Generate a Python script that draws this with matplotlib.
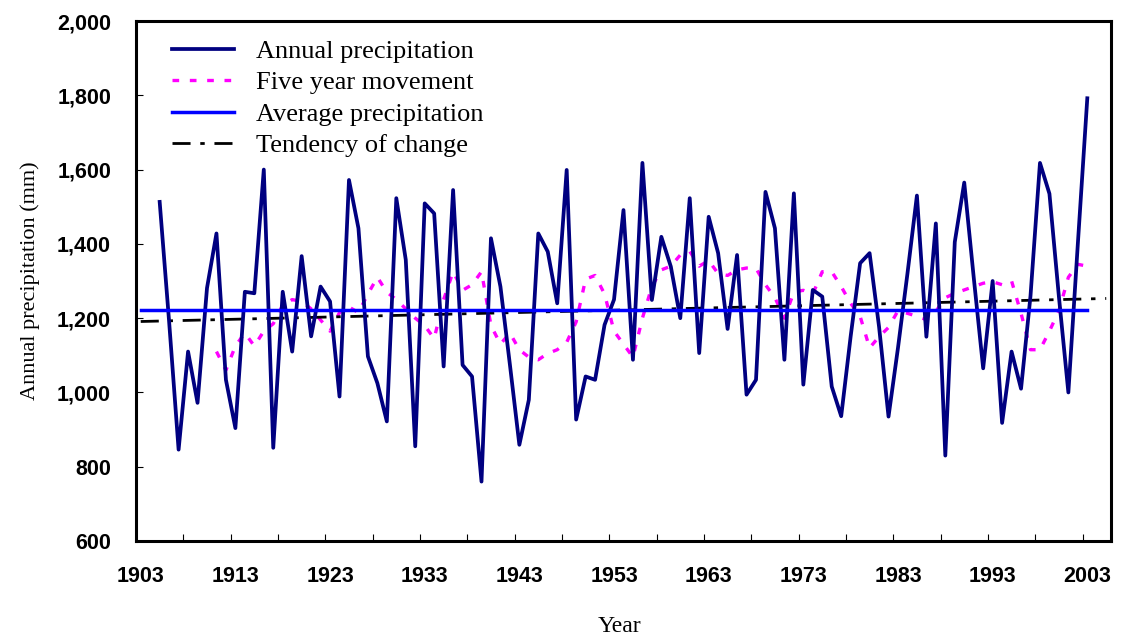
import numpy as np
import matplotlib
matplotlib.use('Agg')
import matplotlib.pyplot as plt
from matplotlib.ticker import FixedLocator, FuncFormatter

# Annual precipitation, 1905-2003 (mm)
years = np.arange(1905, 2004)
annual = [
    1513, 1190, 846, 1110, 972, 1281, 1428, 1034, 904, 1271,   # 1905-1914
    1267, 1600, 851, 1271, 1110, 1367, 1151, 1285, 1245, 989,   # 1915-1924
    1572, 1442, 1097, 1025, 922, 1523, 1357, 855, 1509, 1482,   # 1925-1934
    1070, 1545, 1074, 1043, 760, 1415, 1285, 1075, 859, 980,    # 1935-1944
    1428, 1379, 1240, 1599, 927, 1043, 1034, 1182, 1250, 1491,  # 1945-1954
    1088, 1618, 1249, 1419, 1339, 1200, 1523, 1106, 1473, 1375, # 1955-1964
    1171, 1370, 994, 1034, 1540, 1442, 1088, 1536, 1021, 1276,  # 1965-1974
    1258, 1016, 936, 1151, 1348, 1375, 1177, 935, 1120, 1320,   # 1975-1984
    1530, 1150, 1455, 830, 1405, 1565, 1310, 1065, 1300, 918,   # 1985-1994
    1110, 1010, 1260, 1618, 1535, 1258, 1000, 1400, 1792,       # 1995-2003
]

# Five year movement, 1911-2003
ma_years = np.arange(1911, 2004)
five_year = [
    1110, 1060, 1125, 1160, 1125, 1165, 1185, 1235, 1250, 1245,  # 1911-1920
    1225, 1195, 1165, 1215, 1230, 1215, 1265, 1310, 1270, 1250,  # 1921-1930
    1225, 1200, 1180, 1145, 1250, 1325, 1275, 1290, 1325, 1180,  # 1931-1940
    1130, 1160, 1115, 1095, 1088, 1105, 1115, 1135, 1190, 1305,  # 1941-1950
    1315, 1265, 1165, 1130, 1095, 1200, 1285, 1330, 1340, 1370,  # 1951-1960
    1380, 1340, 1355, 1320, 1315, 1330, 1335, 1334, 1290, 1255,  # 1961-1970
    1200, 1270, 1275, 1265, 1325, 1325, 1285, 1240, 1205, 1120,  # 1971-1980
    1150, 1175, 1220, 1213, 1205, 1196, 1218, 1255, 1267, 1276,  # 1981-1990
    1285, 1294, 1298, 1290, 1300, 1213, 1115, 1115, 1165, 1220,  # 1991-2000
    1310, 1345, 1340,                                            # 2001-2003
]

# Average precipitation line (1903-2003) and linear tendency (1903-2005)
avg_years = [1903, 2003]
avg_value = 1222
trend_years = [1903, 2005]
trend_values = [1191, 1253]

label_years = list(range(1903, 2004, 10))

fig = plt.figure(figsize=(11.24, 6.37), dpi=100)
ax = fig.add_axes([0.121, 0.1507, 0.8674, 0.8163])

ax.plot(years, annual, color='#000080', lw=2.7, label='Annual precipitation', zorder=3)
ax.plot(ma_years, five_year, color='#FF00FF', lw=2.4, linestyle=(0, (2.0, 3.2)),
        label='Five year movement', zorder=2)
ax.plot(avg_years, [avg_value, avg_value], color='#0000FF', lw=2.5,
        label='Average precipitation', zorder=4)
ax.plot(trend_years, trend_values, color='black', lw=2.0, linestyle=(0, (6.5, 3.5, 1.6, 3.5)),
        label='Tendency of change', zorder=2)

ax.set_xlim(1902.5, 2005.5)
ax.set_ylim(600, 2000)

# x: labels every 10 years, small inward ticks every 5 categories
ax.xaxis.set_major_locator(FixedLocator(label_years))
ax.xaxis.set_minor_locator(FixedLocator(np.arange(1907.5, 2003, 5)))
ax.tick_params(axis='x', which='major', length=0, pad=18)
ax.tick_params(axis='x', which='minor', direction='in', length=5, width=0.8)

ax.yaxis.set_major_locator(FixedLocator(np.arange(600, 2001, 200)))
ax.yaxis.set_major_formatter(FuncFormatter(lambda v, p: f'{int(v):,}'))
ax.tick_params(axis='y', which='major', direction='in', length=5, width=0.8, pad=18)

for lbl in ax.get_xticklabels() + ax.get_yticklabels():
    lbl.set_family(['Liberation Sans', 'DejaVu Sans'])
    lbl.set_fontweight('bold')
    lbl.set_fontsize(15.5)

for sp in ax.spines.values():
    sp.set_linewidth(2.2)

serif = ['Liberation Serif', 'DejaVu Serif']
ax.set_ylabel('Annual precipitation (mm)', family=serif, fontsize=16, labelpad=12)
fig.text(0.5515, 0.0, 'Year', family=serif, fontsize=17, ha='center', va='bottom')

leg = ax.legend(loc='upper left', bbox_to_anchor=(0.018, 1.0), frameon=False,
                prop={'family': serif, 'size': 19}, handlelength=2.35,
                handletextpad=0.85, labelspacing=0.3, borderaxespad=0.3)

plt.savefig('out.png', dpi=100)
